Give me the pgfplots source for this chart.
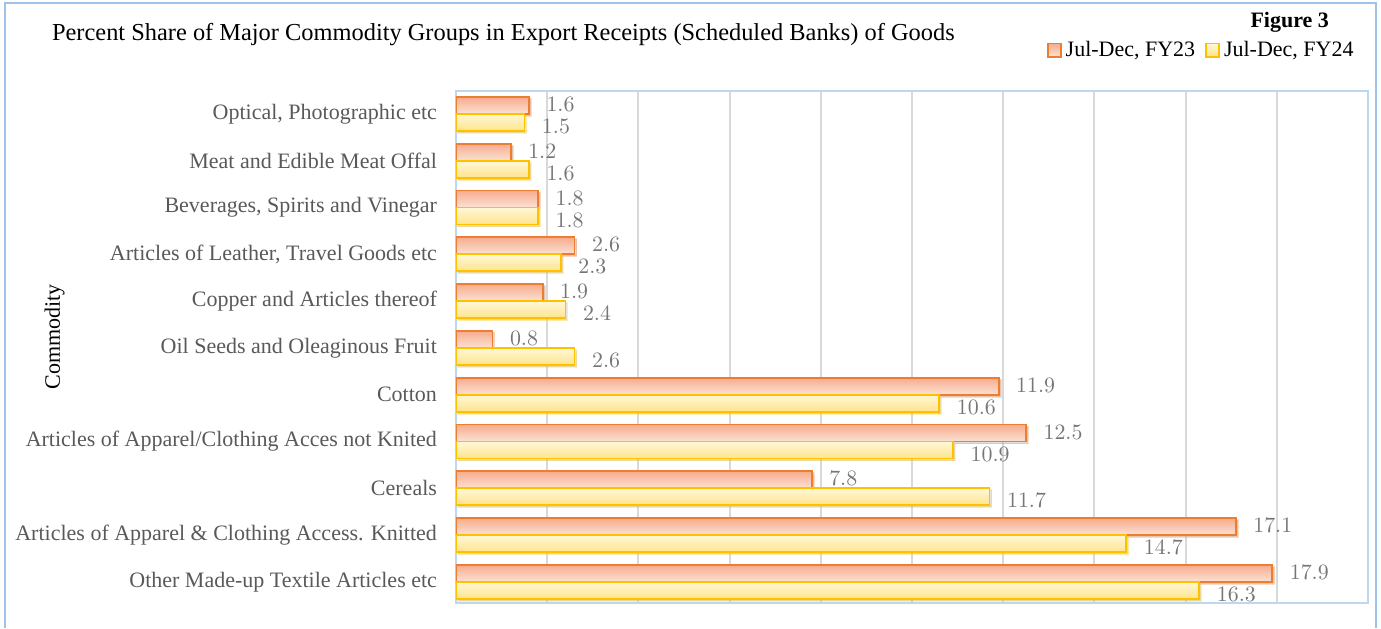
\documentclass[border=0pt]{standalone}
\usepackage{pgfplots}
\usepackage{pgfplotstable}
\pgfplotsset{compat=1.18}
\usepackage{fontspec}
\setmainfont{Liberation Serif}
\usetikzlibrary{shadows}
\definecolor{orEdge}{HTML}{ED7D31}
\definecolor{orTop}{HTML}{F6AC8E}
\definecolor{orBot}{HTML}{FCE2D4}
\definecolor{yeEdge}{HTML}{FFC000}
\definecolor{yeTop}{HTML}{FFF7D6}
\definecolor{yeBot}{HTML}{FFE48E}
\definecolor{gridc}{HTML}{D9D9D9}
\definecolor{framec}{HTML}{BDD7EE}
\definecolor{outerc}{HTML}{9DC3E6}
\definecolor{tickc}{HTML}{595959}
\definecolor{labc}{HTML}{767676}

\pgfplotstableread{
y  fya  fyb
0  17.9 16.3
1  17.1 14.7
2  7.8  11.7
3  12.5 10.9
4  11.9 10.6
5  0.8  2.6
6  1.9  2.4
7  2.6  2.3
8  1.8  1.8
9  1.2  1.6
10 1.6  1.5
}\data

\tikzset{
  orbar/.style={draw=orEdge, line width=0.9pt, top color=orTop, bottom color=orBot,
    drop shadow={shadow xshift=1pt, shadow yshift=-1pt, opacity=0.25}},
  yebar/.style={draw=yeEdge, line width=0.9pt, top color=yeTop, bottom color=yeBot,
    drop shadow={shadow xshift=1pt, shadow yshift=-1pt, opacity=0.25}},
}

\begin{document}
\begin{tikzpicture}
\path[use as bounding box] (0,0) rectangle (690.5pt,314pt);
\draw[outerc, line width=0.8pt] (2.5pt,0pt) -- (2.5pt,312.5pt) -- (688pt,312.5pt) -- (688pt,0pt);
\node[anchor=west, font=\fontsize{12.2}{14}\selectfont] at (22.5pt,296.5pt)
  {Percent Share of Major Commodity Groups in Export Receipts (Scheduled Banks) of Goods};
\node[anchor=east, font=\fontsize{11}{13}\selectfont\bfseries] at (668pt,303pt) {Figure 3};
\begin{axis}[
  scale only axis, width=456pt, height=256pt,
  at={(228pt,12.5pt)}, anchor=south west,
  xmin=0, xmax=20, ymin=-0.45, ymax=10.49,
  xtick={0,2,...,20}, xticklabels={},
  xmajorgrids, grid style={gridc, line width=1pt},
  ytick={0,...,10},
  yticklabels={Other Made-up Textile Articles etc, Articles of Apparel \& Clothing Access. Knitted, Cereals, Articles of Apparel/Clothing Acces not Knited, Cotton, Oil Seeds and Oleaginous Fruit, Copper and Articles thereof, {Articles of Leather, Travel Goods etc}, {Beverages, Spirits and Vinegar}, Meat and Edible Meat Offal, {Optical, Photographic etc}},
  yticklabel style={text=tickc, font=\fontsize{11}{13}\selectfont, xshift=-6pt},
  major tick length=0pt,
  axis line style={framec, line width=0.75pt},
  ylabel={Commodity},
  every axis y label/.style={at={(axis description cs:-0.44,0.52)}, rotate=90, anchor=center, font=\fontsize{11}{13}\selectfont},
  xbar, bar width=0.363,
  nodes near coords,
  every node near coord/.append style={text=labc, font=\fontsize{11}{13}\selectfont, xshift=5pt},
  legend columns=2,
  legend style={draw=none, fill=none, at={(0.989,1.08)}, anchor=east, font=\fontsize{11}{13}\selectfont, inner sep=0pt,
    /tikz/every even column/.append style={column sep=3pt}},
  legend image code/.code={\draw[#1] (0pt,-3.3pt) rectangle (6.5pt,3.3pt);},
]
\pgfplotsinvokeforeach{0,...,10}{
  \addplot[orbar, bar shift=0.1815, forget plot, restrict y to domain=#1:#1,
    every node near coord/.append style={yshift=0.5pt}] table[x=fya, y=y] {\data};
  \addplot[yebar, bar shift=-0.1815, forget plot, restrict y to domain=#1:#1,
    every node near coord/.append style={yshift=-2pt}] table[x=fyb, y=y] {\data};
}
\addlegendimage{draw=orEdge, line width=0.9pt, top color=orTop, bottom color=orBot}
\addlegendentry{Jul-Dec, FY23}
\addlegendimage{draw=yeEdge, line width=0.9pt, top color=yeTop, bottom color=yeBot}
\addlegendentry{Jul-Dec, FY24}
\end{axis}
\end{tikzpicture}
\end{document}
